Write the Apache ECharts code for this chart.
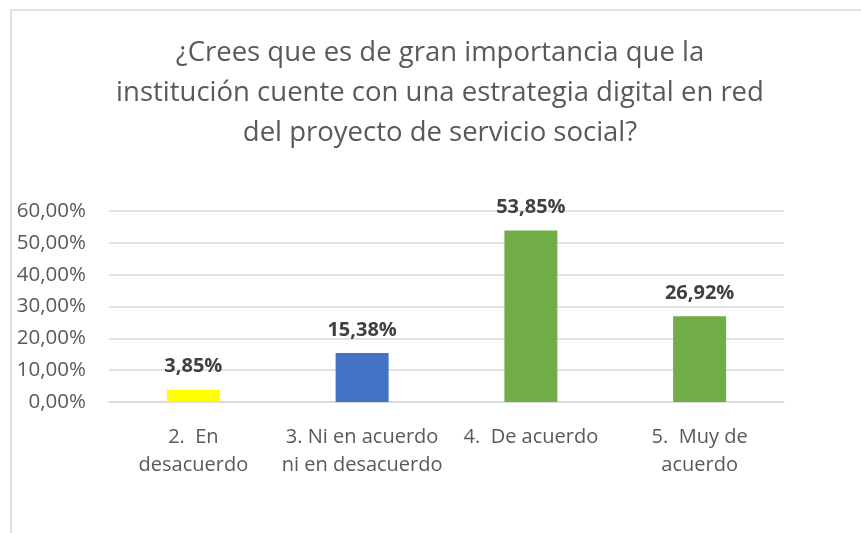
<!DOCTYPE html>
<html lang="es">
<head>
	<meta charset="UTF-8">
	<title>Estrategia digital</title>
	<style>
		html,body{margin:0;padding:0;background:#fff;}
		#main{width:861px;height:533px;}
	</style>
</head>
<body>
	<div id="main"></div>
	<script src="https://cdn.jsdelivr.net/npm/echarts@6/dist/echarts.min.js"></script>
	<script>
		// datos
		var categorias = ['2.  En\ndesacuerdo', '3. Ni en acuerdo\nni en desacuerdo', '4.  De acuerdo', '5.  Muy de\nacuerdo'];
		var valores = [3.85, 15.38, 53.85, 26.92];
		var colores = ['#FFFF00', '#4472C4', '#70AD47', '#70AD47'];
		var titulo = '¿Crees que es de gran importancia que la\ninstitución cuente con una estrategia digital en red\ndel proyecto de servicio social?';

		var fuente = '"Open Sans", sans-serif';
		function pct(v){ return v.toFixed(2).replace('.', ',') + '%'; }

		var datos = [];
		for (var i = 0; i < valores.length; i++) {
			datos.push({value: valores[i], itemStyle: {color: colores[i]}});
		}

		var myChart = echarts.init(document.getElementById('main'));
		var option = {
			backgroundColor: '#fff',
			animation: false,
			graphic: [{
				type: 'rect',
				shape: {x: 11, y: 10, width: 900, height: 600},
				style: {fill: 'none', stroke: '#d9d9d9', lineWidth: 1.5},
				silent: true
			}],
			title: {
				text: titulo,
				left: 435,
				textAlign: 'center',
				top: 28,
				textStyle: {
					fontFamily: fuente,
					fontWeight: 'normal',
					fontSize: 27.5,
					lineHeight: 40,
					color: '#595959'
				}
			},
			grid: {left: 109, right: 77, top: 211, bottom: 131},
			xAxis: {
				type: 'category',
				data: categorias,
				axisLine: {lineStyle: {color: '#d9d9d9', width: 1.5}},
				axisTick: {show: false},
				axisLabel: {
					interval: 0,
					margin: 21,
					fontFamily: fuente,
					fontSize: 20,
					lineHeight: 28,
					color: '#595959'
				}
			},
			yAxis: {
				type: 'value',
				min: 0,
				max: 60,
				interval: 10,
				axisLine: {show: false},
				axisTick: {show: false},
				splitLine: {lineStyle: {color: '#d9d9d9', width: 1.5}},
				axisLabel: {
					margin: 23,
					fontFamily: fuente,
					fontSize: 20.5,
					color: '#595959',
					formatter: function(v){ return pct(v); }
				}
			},
			series: [{
				type: 'bar',
				data: datos,
				barWidth: 53,
				label: {
					show: true,
					position: 'top',
					distance: 13,
					fontFamily: fuente,
					fontWeight: 'bold',
					fontSize: 20,
					color: '#404040',
					formatter: function(p){ return pct(p.value); }
				}
			}]
		};
		myChart.setOption(option);
	</script>
</body>
</html>
